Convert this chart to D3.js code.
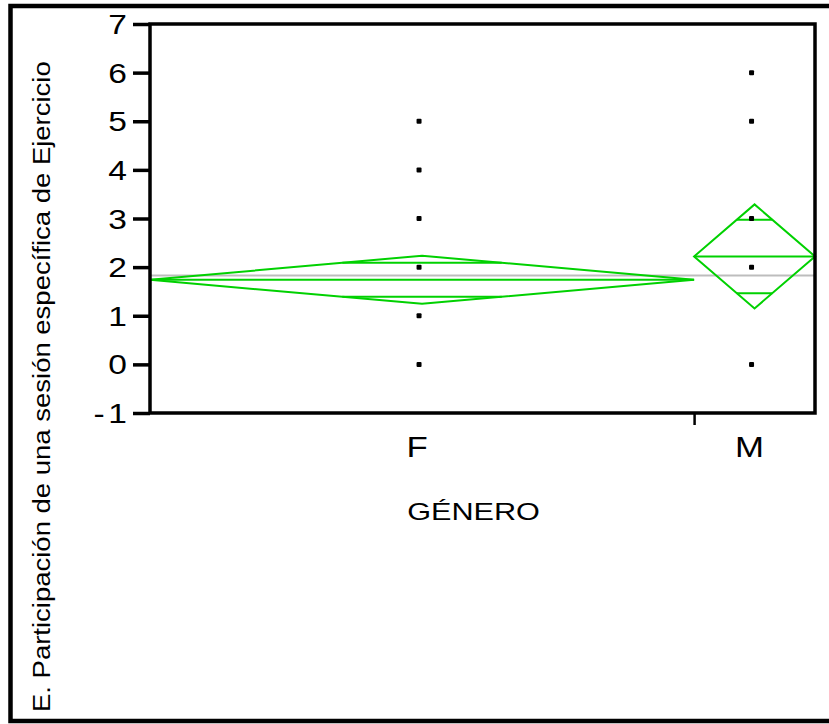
<!DOCTYPE html>
<html lang="en">
<head>
<meta charset="utf-8">
<title>Participación por género</title>
<script src="https://cdn.jsdelivr.net/npm/d3@7"></script>
<style>
  body { margin: 0; background: #fff; }
  text { font-family: "Liberation Sans", Arial, sans-serif; fill: #000; }
</style>
</head>
<body>
<script>
var width = 829, height = 724

// data
var groups = ["F", "M"]
var counts = [45, 10]
var means = [1.74, 2.22]
var ciHalf = [0.495, 1.07]
var grandMean = 1.83
var points = [[0, 1, 2, 3, 4, 5], [0, 2, 3, 5, 6]]
var yTicks = [-1, 0, 1, 2, 3, 4, 5, 6, 7]
var yTitle = "E. Participación de una sesión específica de Ejercicio"
var xTitle = "GÉNERO"

var svg = d3.select("body").append("svg").attr("width", width).attr("height", height)

// note: "top" is taken by window.top, so plot edges get their own names
var pLeft = 150, pRight = 815, pTop = 24, pBottom = 413
var green = "#00d100"

var total = d3.sum(counts)
var x = d3.scaleLinear().domain([0, total]).range([pLeft, pRight])
var y = d3.scaleLinear().domain([-1, 7]).range([pBottom, pTop])

// cumulative group edges
var edges = [0]
counts.forEach(function(c, i) { edges.push(edges[i] + c) })

// outer frame
svg.append("rect")
  .attr("x", 10.5).attr("y", 6).attr("width", 840).attr("height", 715)
  .attr("fill", "none").attr("stroke", "#000").attr("stroke-width", 4.5)

// stretched text helper
function label(txt, tx, ty, size, sx, anchor, rot) {
  return svg.append("text")
    .attr("transform", "translate(" + tx + "," + ty + ")" + (rot ? " rotate(" + rot + ")" : "") + " scale(" + sx + ",1)")
    .attr("text-anchor", anchor)
    .style("font-size", size + "px")
    .text(txt)
}

// grand mean line
svg.append("line")
  .attr("x1", pLeft).attr("x2", pRight)
  .attr("y1", y(grandMean)).attr("y2", y(grandMean))
  .attr("stroke", "#bdbdbd").attr("stroke-width", 2)

// mean diamonds
groups.forEach(function(g, i) {
  var x0 = x(edges[i]), x1 = x(edges[i + 1]), xc = (x0 + x1) / 2
  var m = means[i], h = ciHalf[i]
  svg.append("path")
    .attr("d", d3.line()([[x0, y(m)], [xc, y(m + h)], [x1, y(m)], [xc, y(m - h)]]) + "Z")
    .attr("fill", "none").attr("stroke", green).attr("stroke-width", 2)
  svg.append("line")
    .attr("x1", x0).attr("x2", x1).attr("y1", y(m)).attr("y2", y(m))
    .attr("stroke", green).attr("stroke-width", 2)
  // overlap marks
  var o = h / Math.SQRT2, f = 1 - o / h, hw = (x1 - x0) / 2 * f
  ;[m + o, m - o].forEach(function(v) {
    svg.append("line")
      .attr("x1", xc - hw).attr("x2", xc + hw).attr("y1", y(v)).attr("y2", y(v))
      .attr("stroke", green).attr("stroke-width", 2)
  })
  // points
  svg.selectAll(null).data(points[i]).enter().append("rect")
    .attr("x", xc - 3 - 2.5).attr("y", function(d) { return y(d) - 2.5 })
    .attr("width", 5).attr("height", 5).attr("rx", 1).attr("fill", "#000")
})

// plot frame
svg.append("rect")
  .attr("x", pLeft).attr("y", pTop).attr("width", pRight - pLeft).attr("height", pBottom - pTop)
  .attr("fill", "none").attr("stroke", "#000").attr("stroke-width", 3.5)

// y axis
var yAxis = svg.append("g")
  .attr("transform", "translate(" + pLeft + ",0)")
  .call(d3.axisLeft(y).tickValues(yTicks).tickSize(17).tickFormat(""))
yAxis.select(".domain").remove()
yAxis.selectAll("line").attr("stroke-width", 3.5)
yTicks.forEach(function(t) {
  var lab = label(String(t), 127, y(t) + 10, 27.5, 1.22, "end")
  if (t < 0) {
    // JMP leaves a small gap after the minus sign
    lab.text("-")
    lab.append("tspan").attr("dx", 3).text(Math.abs(t))
  }
})

// x axis: group boundaries
var xAxis = svg.append("g")
  .attr("transform", "translate(0," + pBottom + ")")
  .call(d3.axisBottom(x).tickValues(edges.slice(1, -1)).tickSize(12).tickFormat(""))
xAxis.select(".domain").remove()
xAxis.selectAll("line").attr("stroke-width", 2.5)

groups.forEach(function(g, i) {
  var xc = (x(edges[i]) + x(edges[i + 1])) / 2
  label(g, xc - 5, 457, 29, 1.2, "middle")
})
label(xTitle, (pLeft + pRight) / 2 - 9, 520, 24.5, 1.25, "middle")
label(yTitle, 50, 712, 23.7, 1.16, "start", -90)
</script>
</body>
</html>
